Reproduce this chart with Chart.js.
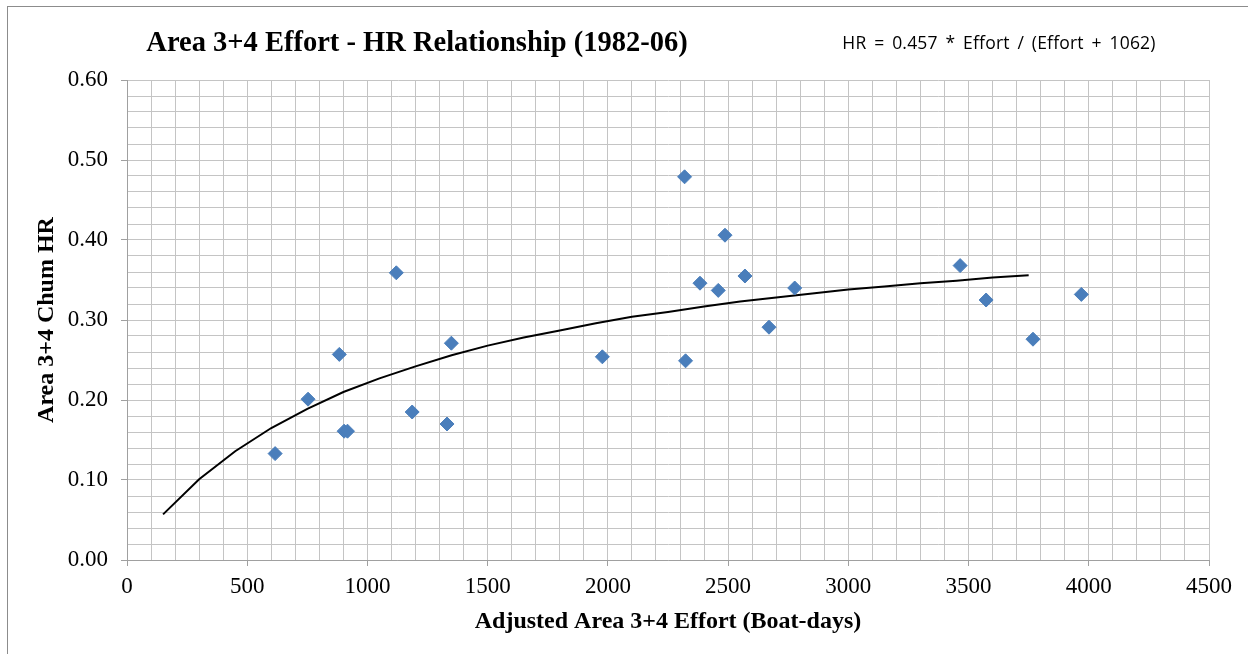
<!DOCTYPE html>
<html>
<head>
<meta charset="utf-8">
<script src="https://cdn.jsdelivr.net/npm/chart.js@4"></script>
<style>
  body { margin: 0; background: #fff; }
  #wrap { position: relative; width: 1248px; height: 654px; overflow: hidden; }
  #frame { position: absolute; left: 7px; top: 6px; width: 1260px; height: 700px;
           border-top: 1px solid #8c8c8c; border-left: 1px solid #8c8c8c; }
  #title { position: absolute; left: 417px; top: 25px; transform: translateX(-50%);
           font: bold 28.5px 'Liberation Serif', serif; line-height: 34px; white-space: nowrap; }
  #eq { position: absolute; left: 999px; top: 29px; transform: translateX(-50%);
        font: 17.5px 'Open Sans', sans-serif; line-height: 26px; white-space: nowrap;
        letter-spacing: 0.2px; word-spacing: 3px; }
  canvas { position: absolute; left: 0; top: 0; }
</style>
</head>
<body>
<div id="wrap">
  <div id="frame"></div>
  <canvas id="chart" width="1248" height="654"></canvas>
  <div id="title">Area 3+4 Effort - HR Relationship (1982-06)</div>
  <div id="eq">HR = 0.457 * Effort / (Effort + 1062)</div>
</div>
<script>
// observed points
const effort = [616, 753, 883, 903, 917, 1120, 1186, 1331, 1349, 1977, 2319, 2323, 2383, 2459, 2487, 2570, 2670, 2777, 3465, 3573, 3768, 3969];
const chumHR = [0.133, 0.201, 0.257, 0.161, 0.161, 0.359, 0.185, 0.170, 0.271, 0.254, 0.479, 0.249, 0.346, 0.337, 0.406, 0.355, 0.291, 0.340, 0.368, 0.325, 0.276, 0.332];

// fitted curve
const curveEffort = [150, 300, 450, 600, 750, 900, 1050, 1200, 1350, 1500, 1650, 1800, 1950, 2100, 2250, 2400, 2550, 2700, 2850, 3000, 3150, 3300, 3450, 3600, 3750];
const curveHR = [0.057, 0.101, 0.136, 0.165, 0.189, 0.210, 0.227, 0.242, 0.256, 0.268, 0.278, 0.287, 0.296, 0.304, 0.310, 0.317, 0.323, 0.328, 0.333, 0.338, 0.342, 0.346, 0.349, 0.353, 0.356];

const gridColor = '#c4c4c4';
const axisColor = '#a0a0a0';
const serif = 'Liberation Serif';

const isMajor = (v, step) => Math.abs(v / step - Math.round(v / step)) < 1e-6;

const ctx = document.getElementById('chart').getContext('2d');
new Chart(ctx, {
  type: 'scatter',
  data: {
    datasets: [{
      label: 'Observed',
      data: effort.map((e, i) => ({ x: e, y: chumHR[i] })),
      pointStyle: 'rectRot',
      pointRadius: 7,
      pointBorderWidth: 1,
      backgroundColor: '#4a7ebb',
      borderColor: '#4a7ebb'
    }, {
      label: 'Fit',
      data: curveEffort.map((e, i) => ({ x: e, y: curveHR[i] })),
      showLine: true,
      pointRadius: 0,
      borderColor: '#000',
      borderWidth: 2,
      tension: 0
    }]
  },
  options: {
    responsive: false,
    animation: false,
    layout: { padding: { left: 0, top: 80, right: 39, bottom: 0 } },
    plugins: { legend: { display: false }, tooltip: { enabled: false } },
    scales: {
      x: {
        type: 'linear', min: 0, max: 4500,
        afterFit: s => { s.height = 94; },
        border: { color: axisColor },
        grid: {
          color: gridColor,
          tickLength: 6,
          tickColor: c => isMajor(c.tick.value, 500) ? axisColor : 'rgba(0,0,0,0)'
        },
        ticks: {
          stepSize: 100, autoSkip: false, maxRotation: 0, padding: 7,
          color: '#000', font: { family: serif, size: 23 },
          callback: v => isMajor(v, 500) ? String(v) : ''
        },
        title: {
          display: true, text: 'Adjusted Area 3+4 Effort (Boat-days)',
          color: '#000', font: { family: serif, size: 24, weight: 'bold' },
          padding: { top: 0, bottom: 18 }
        }
      },
      y: {
        min: 0, max: 0.6,
        afterFit: s => { s.width = 127; },
        border: { color: axisColor },
        grid: {
          color: gridColor,
          tickLength: 6,
          tickColor: c => isMajor(c.tick.value, 0.1) ? axisColor : 'rgba(0,0,0,0)'
        },
        ticks: {
          stepSize: 0.02, autoSkip: false, padding: 13,
          color: '#000', font: { family: serif, size: 23 },
          callback: v => isMajor(v, 0.1) ? v.toFixed(2) : ''
        },
        title: {
          display: true, text: 'Area 3+4 Chum HR',
          color: '#000', font: { family: serif, size: 24, weight: 'bold' },
          padding: { top: 32, bottom: 0 }
        }
      }
    }
  }
});
</script>
</body>
</html>
